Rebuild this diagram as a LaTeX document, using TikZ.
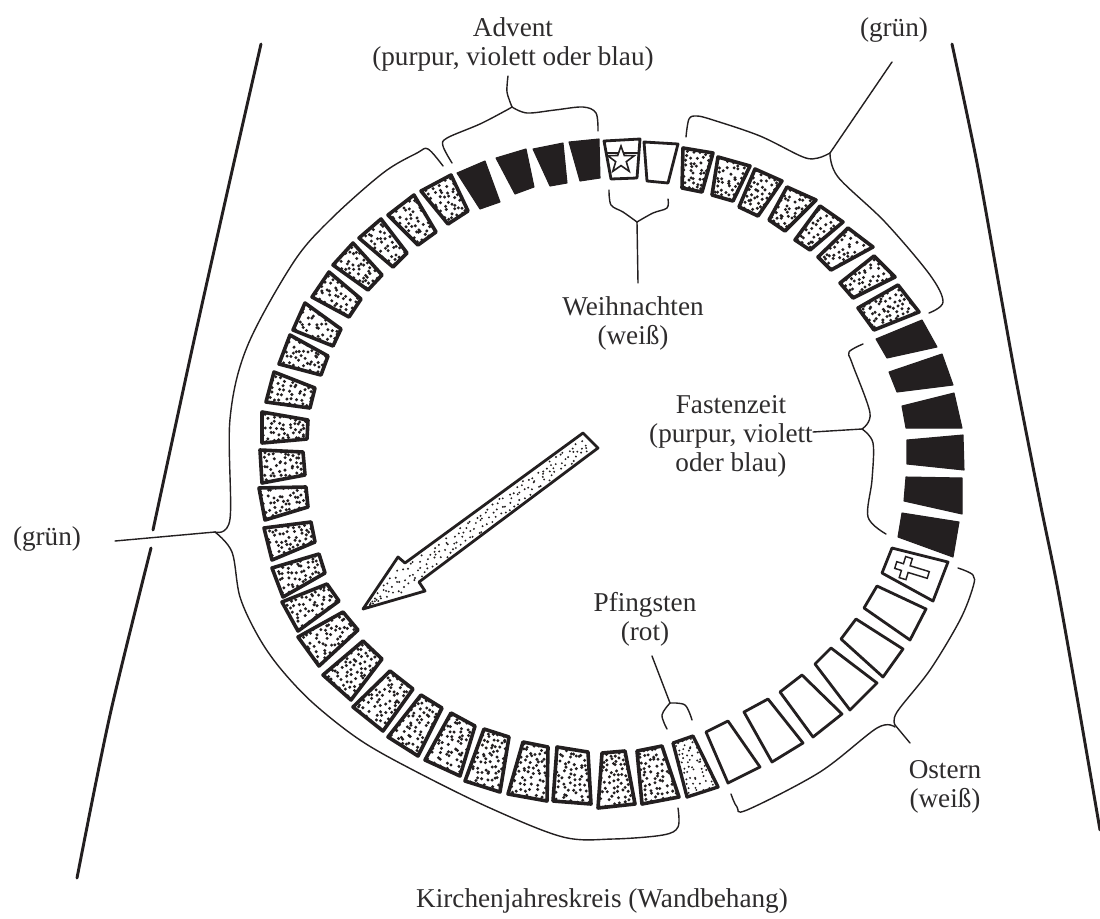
\documentclass[tikz,border=0pt]{standalone}
\usepackage{fontspec}
\setmainfont{Liberation Serif}
\definecolor{ink}{HTML}{231F20}
\definecolor{txt}{HTML}{2E2C2D}
\tikzset{
  label text/.style={text=txt,align=center,inner sep=0pt,font=\fontsize{20.4}{21.8}\selectfont},
  bracket/.style={draw=ink,line width=1.05pt,line cap=round,line join=round},
  side line/.style={draw=ink,line width=2.2pt,line cap=round,line join=round},
  stipple box/.style={draw=ink,fill=white,line width=2.7pt,line join=round},
  light box/.style={draw=ink,fill=white,line width=2.5pt,line join=round},
  open box/.style={draw=ink,fill=white,line width=2.1pt,line join=round},
  solid box/.style={draw=ink,fill=ink,line width=0.8pt,line join=round},
}
\newcommand{\stip}[9]{%
  \pgfmathsetmacro\lenu{(veclen(#3-#1,#4-#2)+veclen(#5-#7,#6-#8))/2}%
  \pgfmathsetmacro\lenv{(veclen(#7-#1,#8-#2)+veclen(#5-#3,#6-#4))/2}%
  \pgfmathtruncatemacro\nU{max(2,\lenu/5)}%
  \pgfmathtruncatemacro\nV{max(2,\lenv/5)}%
  \foreach \iu in {1,...,\nU}{\foreach \iv in {1,...,\nV}{%
    \pgfmathsetmacro\myU{(\iu-0.5+0.42*rand)/\nU}%
    \pgfmathsetmacro\myV{(\iv-0.5+0.42*rand)/\nV}%
    \pgfmathsetmacro\px{(1-\myU)*(1-\myV)*#1+\myU*(1-\myV)*#3+\myU*\myV*#5+(1-\myU)*\myV*#7}%
    \pgfmathsetmacro\py{(1-\myU)*(1-\myV)*#2+\myU*(1-\myV)*#4+\myU*\myV*#6+(1-\myU)*\myV*#8}%
    \fill[ink] (\px,\py) circle[radius=#9];%
  }}}
\newcommand{\gs}[8]{\draw[stipple box] (#1,#2)--(#3,#4)--(#5,#6)--(#7,#8)--cycle;\stip{#1}{#2}{#3}{#4}{#5}{#6}{#7}{#8}{1.25pt}}
\newcommand{\bs}[8]{\draw[solid box] (#1,#2)--(#3,#4)--(#5,#6)--(#7,#8)--cycle;}
\newcommand{\ws}[8]{\draw[open box] (#1,#2)--(#3,#4)--(#5,#6)--(#7,#8)--cycle;}
\begin{document}
\begin{tikzpicture}[x=0.75pt,y=-0.75pt]
\useasboundingbox (0,0) rectangle (1100,918);
\fill[white] (0,0) rectangle (1100,918);
\pgfmathsetseed{11}
% side lines
\draw[side line] plot[smooth] coordinates {(261,44) (230,180) (193,345) (153,530)};
\draw[side line] plot[smooth] coordinates {(151,548) (110,715) (77,878)};
\draw[side line] plot[smooth] coordinates {(952,44) (977,163) (1000,291) (1017,385) (1040,502) (1057,585) (1077,697) (1100,830)};
% Advent
\bs{457}{173}{485}{161}{500}{202}{480}{209}
\bs{496}{158}{526}{149}{534}{187}{515}{194}
\bs{533}{149}{563}{143}{567}{183}{550}{186}
\bs{569}{142}{599}{139}{600}{178}{580}{181}
% Weihnachten
\ws{604}{141}{640}{139}{637}{178}{611}{179}
\draw[ink,line width=1.3pt] (605,153)--(640,153);
\draw[ink,fill=white,line width=1.2pt,line join=miter] (621,146)--(624.3,155.5)--(634.3,155.7)--(626.3,161.7)--(629.2,171.3)--(621,165.6)--(612.8,171.3)--(615.7,161.7)--(607.7,155.7)--(617.7,155.5)--cycle;
\ws{644}{142}{678}{144}{668}{183}{647}{181}
% green top right
\gs{683}{148}{713}{153}{702}{192}{682}{188}
\gs{718}{157}{750}{166}{733}{201}{712}{195}
\gs{755}{169}{782}{181}{758}{216}{739}{207}
\gs{787}{187}{816}{200}{785}{231}{769}{220}
\gs{820}{206}{843}{222}{810}{250}{795}{240}
\gs{848}{228}{873}{247}{831}{270}{818}{257}
\gs{874}{256}{895}{277}{853}{298}{840}{283}
\gs{898}{285}{919}{312}{874}{330}{858}{308}
% Fastenzeit
\bs{922}{320}{937}{347}{887}{358}{876}{339}
\bs{942}{354}{953}{385}{897}{392}{889}{372}
\bs{954}{393}{962}{428}{906}{428}{902}{406}
\bs{963}{435}{964}{470}{907}{464}{907}{440}
\bs{962}{478}{962}{514}{904}{501}{906}{477}
\bs{959}{522}{953}{557}{898}{537}{902}{513}
% cross
\ws{948}{562}{933}{601}{882}{573}{892}{548}
\begin{scope}[shift={(912,570)},rotate=-17]
\draw[ink,line width=1.1pt,line join=miter] (-17,-3.5)--(-10,-3.5)--(-10,-11)--(-3,-11)--(-3,-3.5)--(17,-3.5)--(17,3.5)--(-3,3.5)--(-3,11)--(-10,11)--(-10,3.5)--(-17,3.5)--cycle;
\end{scope}
% Ostern
\ws{877}{586}{926}{609}{910}{640}{864}{608}
\ws{856}{619}{903}{649}{883}{677}{841}{639}
\ws{831}{648}{877}{683}{850}{710}{815}{664}
\ws{802}{675}{842}{714}{813}{737}{780}{692}
\ws{768}{699}{803}{743}{772}{762}{744}{712}
\ws{728}{721}{760}{767}{728}{783}{706}{732}
% Pfingsten
\draw[light box] (693,736)--(718,787)--(687,797)--(673,743)--cycle;
\stip{693}{736}{718}{787}{687}{797}{673}{743}{0.8pt}
% green long
\gs{662}{746}{679}{797}{642}{804}{637}{751}
\gs{625}{751}{635}{804}{598}{808}{602}{753}
\gs{588}{752}{591}{804}{553}{801}{557}{747}
\gs{548}{747}{547}{801}{508}{794}{523}{742}
\gs{509}{737}{500}{792}{465}{781}{484}{729}
\gs{475}{726}{460}{776}{425}{760}{451}{713}
\gs{442}{708}{418}{756}{388}{737}{421}{695}
\gs{413}{689}{383}{731}{353}{707}{390}{671}
\gs{382}{659}{351}{700}{323}{675}{363}{641}
\gs{358}{630}{319}{666}{298}{637}{343}{612}
\gs{339}{601}{298}{631}{282}{602}{327}{584}
\gs{325}{573}{283}{597}{272}{568}{319}{554}
\gs{315}{542}{272}{560}{264}{528}{311}{522}
\gs{308}{507}{265}{520}{259}{488}{306}{487}
\gs{305}{475}{262}{483}{260}{450}{303}{452}
\gs{307}{439}{262}{443}{262}{412}{308}{420}
\gs{274}{372}{315}{388}{310}{408}{266}{402}
\gs{290}{335}{328}{356}{321}{375}{279}{364}
\gs{305}{303}{341}{329}{333}{346}{293}{330}
\gs{329}{272}{361}{299}{349}{317}{312}{297}
\gs{353}{243}{382}{275}{368}{290}{333}{265}
\gs{381}{219}{407}{253}{393}{267}{359}{238}
\gs{414}{195}{436}{232}{418}{245}{388}{215}
\gs{451}{175}{468}{211}{448}{224}{421}{191}
% arrow
\draw[ink,fill=white,line width=2.1pt,line join=round] (583,433)--(598,448)--(419,582)--(425,591)--(363,609)--(398,557)--(405,563)--cycle;
\stip{581}{438}{593}{449}{417}{581}{403}{568}{0.8pt}
\stip{400}{562}{420}{586}{368}{606}{368}{606}{0.8pt}
% brackets
\draw[bracket] plot[smooth,tension=0.55] coordinates {(452,163) (443,146) (447,138) (480,124) (505,111) (512,107)};
\draw[bracket] plot[smooth,tension=0.55] coordinates {(512,107) (527,113) (555,110) (583,107) (596,113) (598,131)};
\draw[bracket] plot[smooth,tension=0.5] coordinates {(512,107) (507,92) (508,76)};
\draw[bracket] plot[smooth,tension=0.55] coordinates {(609,190) (611,205) (623,212) (637,222)};
\draw[bracket] plot[smooth,tension=0.55] coordinates {(637,222) (653,213) (667,208) (668,199)};
\draw[bracket] (637,222)--(638,283);
\draw[bracket] plot[smooth,tension=0.55] coordinates {(686,137) (689,119) (697,116) (713,120) (760,136) (803,157) (818,158) (830,153)};
\draw[bracket] (830,153)--(892,62);
\draw[bracket] plot[smooth,tension=0.55] coordinates {(830,153) (838,177) (885,222) (930,275) (943,302) (929,313)};
\draw[bracket] plot[smooth,tension=0.55] coordinates {(863,344) (849,352) (852,363) (870,413) (862,429)};
\draw[bracket] plot[smooth,tension=0.55] coordinates {(862,429) (873,443) (872,480) (868,517) (886,534)};
\draw[bracket] (862,429)--(813,432);
\draw[bracket] plot[smooth,tension=0.55] coordinates {(958,568) (973,575) (973,587) (960,620) (930,670) (897,712) (895,725)};
\draw[bracket] (895,725)--(910,743);
\draw[bracket] plot[smooth,tension=0.55] coordinates {(895,727) (877,728) (820,772) (747,810) (737,807) (731,794)};
\draw[bracket] (652,656)--(670,703);
\draw[bracket] plot[smooth,tension=0.55] coordinates {(670,703) (662,715) (667,729)};
\draw[bracket] plot[smooth,tension=0.55] coordinates {(670,703) (685,705) (692,720)};
\draw[bracket] plot[smooth,tension=0.55] coordinates {(443,166) (428,149) (417,153) (383,173) (330,220) (293,263) (247,347) (230,419) (230,519) (215,532)};
\draw[bracket] plot[smooth,tension=0.55] coordinates {(215,532) (232,552) (240,597) (258,636) (280,668) (313,703) (360,740) (413,770) (490,808) (563,837) (613,839) (663,835) (678,827) (678,808)};
\draw[bracket] (215,532)--(115,541);
% labels
\node[label text] (advent) at (513,44) {Advent\\(purpur, violett oder blau)};
\node[label text] (gruenA) at (894,30) {(grün)};
\node[label text] (weih) at (633,323) {Weihnachten\\(weiß)};
\node[label text] (fasten) at (731,436) {Fastenzeit\\(purpur, violett\\oder blau)};
\node[label text] (pfing) at (645,619) {Pfingsten\\(rot)};
\node[label text] (ostern) at (945,787) {Ostern\\(weiß)};
\node[label text] (gruenB) at (47,539) {(grün)};
\node[label text] (kreis) at (602,901) {Kirchenjahreskreis (Wandbehang)};
\end{tikzpicture}
\end{document}
